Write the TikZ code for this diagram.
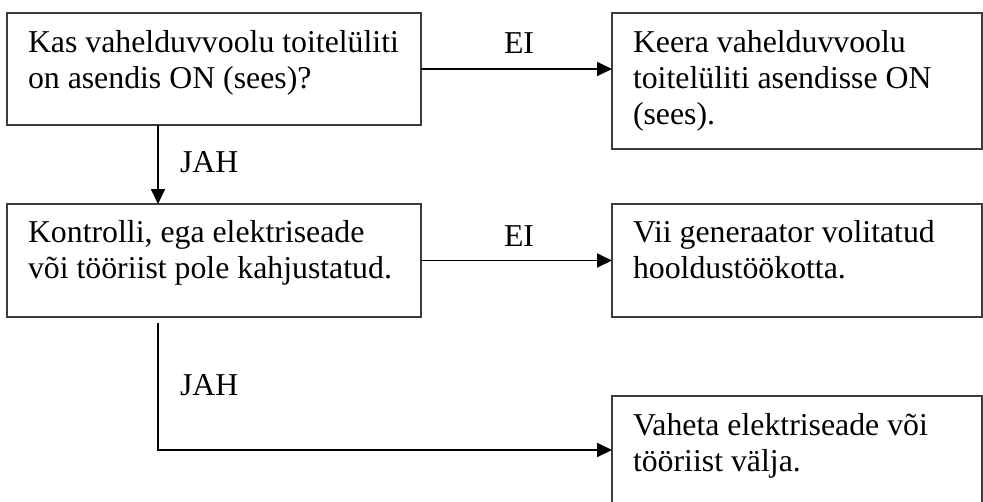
\documentclass[tikz,border=0pt]{standalone}
\usepackage{fontspec}
\setmainfont{Liberation Serif}
\usetikzlibrary{arrows.meta}
\tikzset{
  box/.style={draw={rgb,255:red,60;green,60;blue,60}, line width=1.3pt, rectangle, inner sep=0pt, outer sep=0pt},
  txt/.style={inner sep=0pt, outer sep=0pt, anchor=base west, font=\fontsize{31.8}{36}\selectfont},
  arr/.style={line width=1.8pt, -{Triangle[length=15pt,width=14pt]}},
}
\begin{document}
\begin{tikzpicture}[x=1pt,y=-1pt]
\useasboundingbox (0,0) rectangle (983,501);
\clip (0,0) rectangle (983,501);
\fill[white] (0,0) rectangle (983,501);
% boxes
\node[box, minimum width=414pt, minimum height=112pt] (a) at (214,69) {};
\node[box, minimum width=370pt, minimum height=136pt] (b) at (797,81) {};
\node[box, minimum width=414pt, minimum height=113pt] (c) at (214,260.5) {};
\node[box, minimum width=370pt, minimum height=113pt] (d) at (797,260.5) {};
\node[box, minimum width=370pt, minimum height=160pt] (e) at (797,476) {};
% texts
\node[txt] (ta) at (28,52) {\parbox[t]{390pt}{\raggedright Kas vahelduvvoolu toitelüliti\\on asendis ON (sees)?}};
\node[txt] (tb) at (633,52) {\parbox[t]{345pt}{\raggedright Keera vahelduvvoolu\\toitelüliti asendisse ON\\(sees).}};
\node[txt] (tc) at (28,242) {\parbox[t]{390pt}{\raggedright Kontrolli, ega elektriseade\\või tööriist pole kahjustatud.}};
\node[txt] (td) at (633,242) {\parbox[t]{345pt}{\raggedright Vii generaator volitatud\\hooldustöökotta.}};
\node[txt] (te) at (633,435) {\parbox[t]{345pt}{\raggedright Vaheta elektriseade või\\tööriist välja.}};
% connectors
\draw[arr] (a.east) -- (a.east -| b.west);
\draw[arr] (c.east) -- (c.east -| d.west);
\draw[arr] ([xshift=151pt]a.south west) -- ([xshift=151pt]c.north west);
\draw[arr] ([xshift=151pt,yshift=-6pt]c.south west) |- ([yshift=-54pt]e.north west);
% labels
\node[txt] (l1) at (504,53) {EI};
\node[txt] (l2) at (504,246) {EI};
\node[txt] (l3) at (180,172) {JAH};
\node[txt] (l4) at (180,395) {JAH};
\end{tikzpicture}
\end{document}
